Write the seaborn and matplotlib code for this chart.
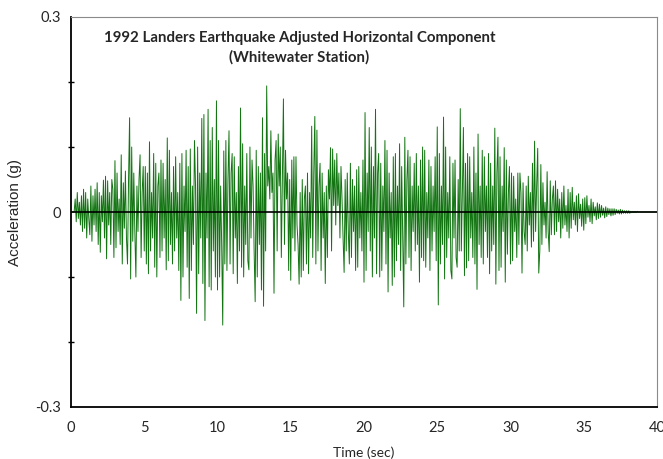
"""Landers 1992 adjusted horizontal acceleration record (Whitewater station)."""

import numpy as np
import matplotlib
matplotlib.use('Agg')
import matplotlib.pyplot as plt
import seaborn as sns
from matplotlib.ticker import MultipleLocator

# Peaks, milli-g, one row per second (14 readings a second)
TIME_STEP = 1 / 14
ACCEL_MG = [
    0, 0, 0, 0, 20, -15, 30, -10, 15, -20, 25, -30, 35, -25,                       # 0 s
    30, -40, 20, -10, -35, 40, -45, 25, -20, 35, -30, 45, -50, 30,                 # 1 s
    -62, 25, -15, 49, -40, 55, -72, 48, -20, 30, -50, 50, 35, -70,                 # 2 s
    79, -55, 60, -30, 20, -50, 88, -80, 45, -25, 63, -40, -80, 50,                 # 3 s
    145, -103, 100, -45, 60, -30, -100, 40, -30, 50, 88, -70, 30, 70,              # 4 s
    -60, 70, -80, 60, -95, 108, -60, 30, -40, 90, -85, 75, -100, 40,               # 5 s
    60, -70, 80, -60, 75, -40, 50, -89, 114, -75, 95, -50, 30, -80,                # 6 s
    70, -60, 85, -40, 30, -90, 75, -136, 90, -100, 40, -30, 95, -85,               # 7 s
    70, -133, 97, -90, 40, -50, 110, 40, -156, 100, -95, 60, -40, 144,             # 8 s
    -110, 150, -167, 60, -40, 158, -115, 110, -120, 130, -60, 50, -100, 171,       # 9 s
    -120, 110, -100, 40, -50, -174, 94, -80, 110, -90, 50, 125, -80, 60,           # 10 s
    90, -95, 85, -40, 30, -110, 70, -60, 160, -85, 105, -100, 40, -50,             # 11 s
    90, -75, -89, 100, -40, 80, 40, -60, -138, 95, -100, 70, -50, 60,              # 12 s
    -120, 145, -145, 90, -60, 194, 40, 70, 20, 125, 30, 60, -125, 80,              # 13 s
    110, -60, 120, 40, 100, -70, 50, 174, -50, 95, 20, 60, -90, 50,                # 14 s
    -105, 80, -40, 85, -60, 85, -20, -50, -111, 30, -100, 50, -90, 20,             # 15 s
    40, -80, 60, -95, 30, -40, 132, -70, 60, 147, -80, 126, -60, 40,               # 16 s
    75, -90, 60, -40, 30, -110, 40, -70, 65, 20, 99, -60, 97, 10,                  # 17 s
    80, -20, 90, 10, 60, -40, 70, 20, -40, -93, 50, -60, 60, -30,                  # 18 s
    -80, 75, -70, 50, -30, 40, -90, 65, -85, 70, -40, 30, -60, 80,                 # 19 s
    -108, 153, -90, 60, -30, 130, -60, 100, -100, 70, -40, 158, -95, 60,           # 20 s
    90, -100, 75, -90, 40, -30, 110, -80, 95, -123, 60, -40, 30, -113,             # 21 s
    85, -100, 90, -75, 40, -50, 105, -90, 70, -40, -146, 115, -80, 50,             # 22 s
    95, -70, 85, -90, 40, -30, 75, -60, 90, -50, 40, -108, 80, -70,                # 23 s
    100, -75, 95, -85, 30, -40, 80, -90, 70, -60, 40, -30, 85, -75,                # 24 s
    131, -143, 90, -80, 40, -50, 146, -103, 100, -70, 30, -40, 85, -90,            # 25 s
    -103, 75, -40, 80, -70, -85, 50, -60, 159, -60, 30, 130, -98, 75,              # 26 s
    -86, 90, -75, 85, -40, 30, -70, 100, -80, 60, -119, 120, -50, 40,              # 27 s
    -70, 95, -80, 85, -30, 40, -70, 90, -95, 75, -60, 40, -50, 129,                # 28 s
    -111, 60, 115, -90, 85, -85, 40, -30, 99, -108, 80, -65, 30, 70,               # 29 s
    -80, 60, -75, 55, -30, 20, -70, 60, -50, 60, 30, -94, 45, -30,                 # 30 s
    -50, 40, -60, 55, -20, 30, -54, 75, -45, 109, -30, 40, 98, -94,                # 31 s
    -60, 73, -50, 45, -20, 15, -40, 62, -30, -61, 48, -35, 20, 40,                 # 32 s
    -35, 48, -30, 35, -15, 20, -40, 30, -25, 40, -20, 10, -30, 35,                 # 33 s
    -40, 30, -25, 38, -12, 15, -20, 25, -30, 28, -10, 12, -22, 20,                 # 34 s
    -28, 22, -18, 25, -8, 10, -15, 20, -18, 15, -6, 8, -12, 14,                    # 35 s
    -10, 12, -8, 10, -5, 6, -9, 8, -7, 6, -4, 5, -6, 5,                            # 36 s
    -5, 5, -4, 4, -2, 3, -3, 4, -3, 3, -2, 2, -2, 2,                               # 37 s
    -2, 2, -2, 1, -1, 1, -1, 1, -1, 1, 0, 0, 0, 0,                                 # 38 s
    0, 0, 0, 0, 0, 0, 0, 0, 0, 0, 0, 0, 0, 0,                                      # 39 s
    0,                                                                             # 40 s
]

Y_TICKS = [-0.3, 0, 0.3]
Y_TICK_LABELS = ['-0.3', '0', '0.3']
X_TICKS = [0, 5, 10, 15, 20, 25, 30, 35, 40]

TITLE = '1992 Landers Earthquake Adjusted Horizontal Component\n(Whitewater Station)'


def main():
    accel = np.array(ACCEL_MG, dtype=float) / 1000.0
    time = np.arange(len(accel)) * TIME_STEP

    sns.set_theme(style='white')
    plt.rcParams['font.family'] = ['Lato', 'DejaVu Sans']

    fig = plt.figure(figsize=(6.63, 4.59), dpi=100)
    ax = fig.add_axes([71 / 663, 1 - 407 / 459, 586 / 663, 390 / 459])

    sns.lineplot(x=time, y=accel, ax=ax, color='#127512', linewidth=0.7,
                 estimator=None, sort=False)
    ax.axhline(0, color='black', linewidth=1.2, zorder=5)

    ax.set_xlim(0, 40)
    ax.set_ylim(-0.3, 0.3)
    ax.set_xticks(X_TICKS)
    ax.set_xticklabels([str(v) for v in X_TICKS])
    ax.set_yticks(Y_TICKS)
    ax.set_yticklabels(Y_TICK_LABELS)
    ax.yaxis.set_minor_locator(MultipleLocator(0.1))

    ax.tick_params(axis='both', which='major', direction='inout', length=8,
                   width=1, color='black', labelsize=10.5, pad=3)
    ax.tick_params(axis='x', which='major', pad=6)
    ax.tick_params(axis='y', which='minor', direction='inout', length=5,
                   width=1, color='black', left=True)

    for side in ('left', 'bottom'):
        ax.spines[side].set_color('black')
        ax.spines[side].set_linewidth(1.3)
    for side in ('top', 'right'):
        ax.spines[side].set_color('#8a8a8a')
        ax.spines[side].set_linewidth(0.8)

    ax.set_xlabel('Time (sec)', fontsize=10, labelpad=8)
    ax.set_ylabel('Acceleration (g)', fontsize=11,
                  family=['Liberation Sans', 'DejaVu Sans'], labelpad=10)

    ax.text(0.39, 0.965, TITLE, transform=ax.transAxes, ha='center', va='top',
            multialignment='center', fontsize=10.8, fontweight='bold',
            linespacing=1.5)

    fig.savefig('out.png', dpi=100)
    plt.close(fig)


if __name__ == '__main__':
    main()
